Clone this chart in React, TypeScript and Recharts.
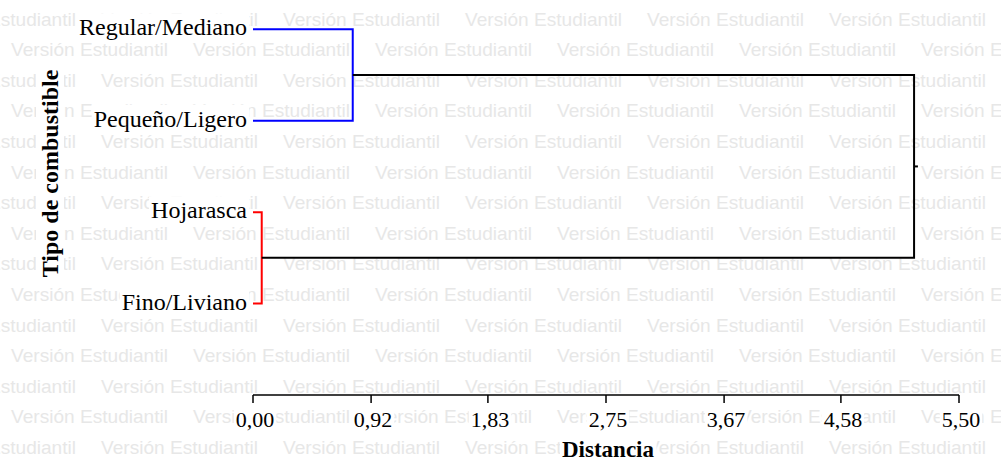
import { useLayoutEffect, useRef, useState } from "react";
import { LineChart, Line, XAxis, YAxis } from "recharts";

// leaves, top to bottom, and their slot on the vertical axis
const leafNames = ["Regular/Mediano", "Pequeño/Ligero", "Hojarasca", "Fino/Liviano"];
const leafPos = [4, 3, 2, 1];

// linkage: nodes 0..3 are leaves, each merge makes a new node (4, 5, 6)
const mergeLeft = [0, 2, 4];
const mergeRight = [1, 3, 5];
const mergeDistance = [0.777, 0.068, 5.15];
const mergeColor = ["#0000ff", "#ff0000", "#000000"];

const distanceTicks = [0, 0.92, 1.83, 2.75, 3.67, 4.58, 5.5];

const SERIF = '"Liberation Serif", "Times New Roman", Times, serif';

const nodeY: number[] = [...leafPos];
const nodeH: number[] = leafPos.map(() => 0);
mergeLeft.forEach((l, i) => {
	nodeY.push((nodeY[l] + nodeY[mergeRight[i]]) / 2);
	nodeH.push(mergeDistance[i]);
});

const links = mergeLeft.map((l, i) => {
	const r = mergeRight[i];
	const d = mergeDistance[i];
	return [
		{ x: nodeH[l], y: nodeY[l] },
		{ x: d, y: nodeY[l] },
		{ x: d, y: nodeY[r] },
		{ x: nodeH[r], y: nodeY[r] },
	];
});
const rootNode = nodeY.length - 1;
const rootStub = [
	{ x: nodeH[rootNode], y: nodeY[rootNode] },
	{ x: nodeH[rootNode] + 0.03, y: nodeY[rootNode] },
];

function BoxedText({
	x,
	y,
	dy = 0,
	dx = 0,
	anchor = "middle",
	size,
	bold = false,
	transform,
	children,
}: any) {
	const ref = useRef<SVGTextElement>(null);
	const [box, setBox] = useState<any>(null);
	useLayoutEffect(() => {
		if (!ref.current) return;
		const b = ref.current.getBBox();
		setBox({ x: b.x, y: b.y, w: b.width, h: b.height });
	}, [x, y, children]);
	return (
		<g transform={transform}>
			{box && (
				<rect x={box.x - 2} y={box.y - 1} width={box.w + 4} height={box.h + 2} fill="#fff" />
			)}
			<text
				ref={ref}
				x={x + dx}
				y={y + dy}
				textAnchor={anchor}
				fontFamily={SERIF}
				fontSize={size}
				fontWeight={bold ? "bold" : "normal"}
				fill="#000"
			>
				{children}
			</text>
		</g>
	);
}

function LeafTick({ x, y, payload }: any) {
	const idx = leafPos.indexOf(payload.value);
	return (
		<BoxedText x={x} y={y} dy={6} anchor="end" size={24}>
			{leafNames[idx]}
		</BoxedText>
	);
}

function DistTick({ x, y, payload }: any) {
	const label = payload.value.toFixed(2).replace(".", ",");
	return (
		<BoxedText x={x} y={y} dx={2} dy={15.6} size={22}>
			{label}
		</BoxedText>
	);
}

function Watermark() {
	const rows = [];
	for (let k = 0; k < 15; k++) {
		const y = 25.5 + 30.6 * k;
		for (let x = (k % 2 === 0 ? 101 : 11) - 182; x < 1001; x += 182) {
			rows.push(
				<text
					key={`${k}-${x}`}
					x={x}
					y={y}
					fontFamily='"Liberation Sans", Arial, sans-serif'
					fontSize={19}
					fill="#e7e7e7"
					textLength={157}
					lengthAdjust="spacingAndGlyphs"
				>
					Versión Estudiantil
				</text>,
			);
		}
	}
	return (
		<svg width={1001} height={466} style={{ position: "absolute", left: 0, top: 0 }}>
			{rows}
		</svg>
	);
}

export default function App() {
	return (
		<div style={{ position: "absolute", left: 0, top: 0, width: 1001, height: 466, background: "#fff" }}>
			<Watermark />
			<div style={{ position: "absolute", left: 0, top: 0 }}>
				<LineChart width={1001} height={466} margin={{ top: 11, right: 42, bottom: 0, left: 13 }}>
					<XAxis
						type="number"
						dataKey="x"
						domain={[0, 5.5]}
						allowDataOverflow
						ticks={distanceTicks}
						interval={0}
						height={71}
						axisLine={{ stroke: "#000", strokeWidth: 1.5 }}
						tickLine={{ stroke: "#000", strokeWidth: 1.5 }}
						tickSize={8}
						tickMargin={8}
						tick={<DistTick />}
						label={{
							content: (props: any) => {
								const vb = props.viewBox;
								return (
									<BoxedText x={vb.x + vb.width / 2 + 2} y={457} size={23} bold>
										Distancia
									</BoxedText>
								);
							},
						}}
					/>
					<YAxis
						type="number"
						dataKey="y"
						domain={[0, 4.2]}
						allowDataOverflow
						ticks={leafPos}
						interval={0}
						width={240}
						axisLine={false}
						tickLine={false}
						tickSize={4}
						tickMargin={2}
						tick={<LeafTick />}
						label={{
							content: () => (
								<BoxedText x={0} y={0} size={24} bold transform="translate(58,173.5) rotate(-90)">
									Tipo de combustible
								</BoxedText>
							),
						}}
					/>
					{links.map((pts, i) => (
						<Line
							key={`link-${i}`}
							data={pts}
							dataKey="y"
							type="linear"
							stroke={mergeColor[i]}
							strokeWidth={2}
							dot={false}
							activeDot={false}
							isAnimationActive={false}
						/>
					))}
					<Line
						data={rootStub}
						dataKey="y"
						type="linear"
						stroke="#000"
						strokeWidth={2}
						dot={false}
						activeDot={false}
						isAnimationActive={false}
					/>
				</LineChart>
			</div>
		</div>
	);
}
